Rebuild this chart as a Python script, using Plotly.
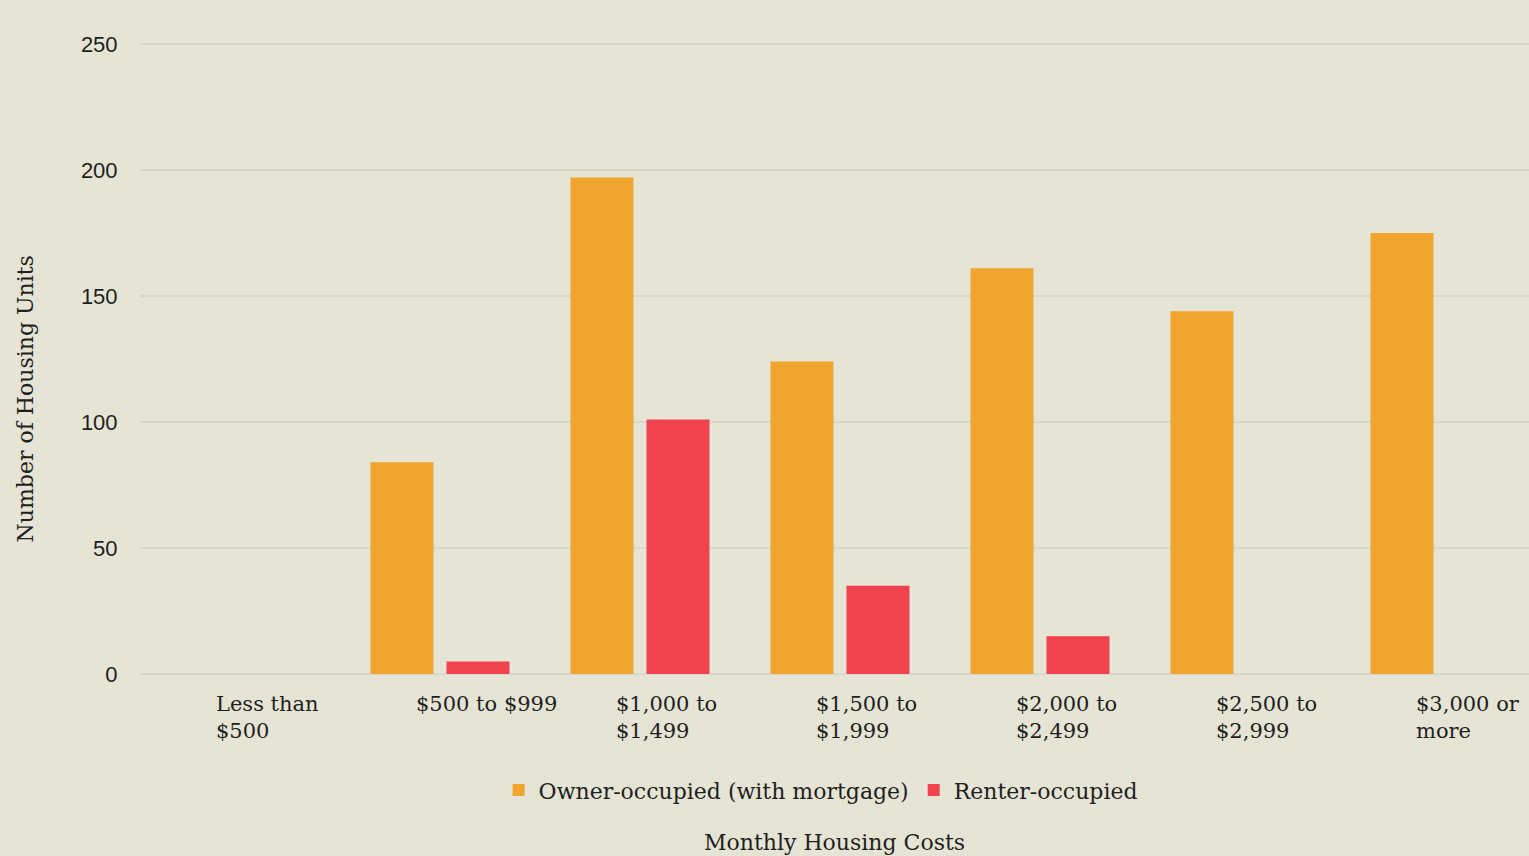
import plotly.graph_objects as go

categories = ["Less than $500", "$500 to $999", "$1,000 to $1,499", "$1,500 to $1,999",
              "$2,000 to $2,499", "$2,500 to $2,999", "$3,000 or more"]
tick_labels = ["Less than<br>$500", "$500 to $999", "$1,000 to<br>$1,499", "$1,500 to<br>$1,999",
               "$2,000 to<br>$2,499", "$2,500 to<br>$2,999", "$3,000 or<br>more"]
owner_occupied = [0, 84, 197, 124, 161, 144, 175]
renter_occupied = [0, 5, 101, 35, 15, 0, 0]

BG = "#E6E4D4"
GRID = "#D9D7CB"
TXT = "#1f1f1f"
SERIF = "DejaVu Serif"
SANS = "Liberation Sans"

fig = go.Figure()
fig.add_trace(go.Bar(x=categories, y=owner_occupied, name="Owner-occupied (with mortgage)",
                     marker=dict(color="#EFA52E", line=dict(width=0))))
fig.add_trace(go.Bar(x=categories, y=renter_occupied, name="Renter-occupied",
                     marker=dict(color="#F0434F", line=dict(width=0))))

annotations = []
for cat, lab in zip(categories, tick_labels):
    annotations.append(dict(x=cat, xref="x", y=0, yref="paper", yanchor="top", yshift=-16,
                            xanchor="left", xshift=-26, align="left", text=lab, showarrow=False,
                            font=dict(family=SERIF, size=21, color=TXT)))
annotations.append(dict(x=-0.0828, xref="paper", y=0.436, yref="paper", textangle=-90,
                        text="Number of Housing Units", showarrow=False,
                        xanchor="center", yanchor="middle",
                        font=dict(family=SERIF, size=22, color=TXT)))
annotations.append(dict(x=0.5, xref="paper", y=-0.266, yref="paper",
                        text="Monthly Housing Costs", showarrow=False,
                        xanchor="center", yanchor="middle",
                        font=dict(family=SERIF, size=22, color=TXT)))

fig.update_layout(
    width=1529, height=856,
    paper_bgcolor=BG, plot_bgcolor=BG,
    margin=dict(l=140, r=0, t=42, b=182),
    barmode="group", bargap=0.24, bargroupgap=0.171,
    showlegend=True,
    legend=dict(orientation="h", x=0.49, xanchor="center", y=-0.184, yanchor="middle",
                font=dict(family=SERIF, size=22, color=TXT), bgcolor="rgba(0,0,0,0)",
                itemwidth=30, traceorder="normal"),
    annotations=annotations,
    xaxis=dict(range=[-0.5, 6.445], showticklabels=False, showgrid=False, zeroline=False,
               showline=False, ticks=""),
    yaxis=dict(range=[0, 250.8], tickvals=[0, 50, 100, 150, 200, 250], showgrid=True,
               gridcolor=GRID, gridwidth=1.5, zeroline=True, zerolinecolor=GRID, zerolinewidth=1.5,
               showline=False, ticks="outside", ticklen=17, tickcolor=BG,
               tickfont=dict(family=SANS, size=22, color=TXT)),
)

fig.write_html("out.html", config={"displayModeBar": False},
               post_script="document.body.style.margin='0';document.body.style.background='%s';" % BG)
